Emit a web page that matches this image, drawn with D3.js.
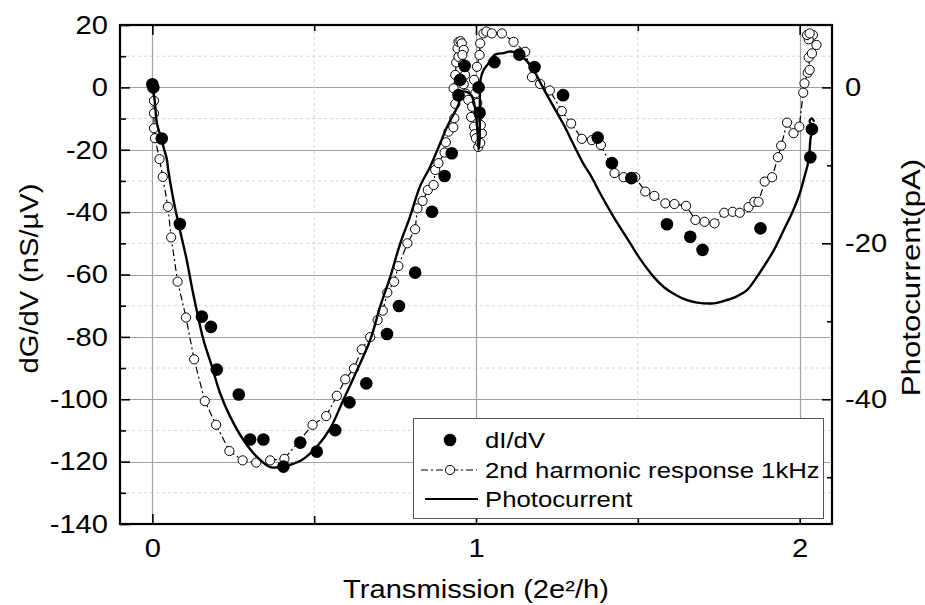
<!DOCTYPE html>
<html>
<head>
<meta charset="utf-8">
<script src="https://cdn.jsdelivr.net/npm/d3@7"></script>
<style>
  body { margin: 0; background: #fff; }
  svg { display: block; font-family: "Liberation Sans", Arial, sans-serif; }
</style>
</head>
<body>
<svg id="chart" width="925" height="605"></svg>
<script>
// dI/dV (nS/µV) versus transmission (2e²/h)
const dIdV_T = [0.000, 0.003, 0.029, 0.085, 0.153, 0.181, 0.199, 0.267, 0.302, 0.343, 0.405, 0.457, 0.508, 0.565,
  0.609, 0.661, 0.725, 0.762, 0.812, 0.864, 0.903, 0.925, 0.946, 0.951, 0.965, 1.008, 1.011, 1.057, 1.134,
  1.181, 1.269, 1.376, 1.420, 1.480, 1.590, 1.662, 1.700, 1.879, 2.033, 2.038];
const dIdV = [1.0, 0.0, -16.4, -43.8, -73.5, -76.8, -90.5, -98.5, -112.9, -112.9, -121.6, -113.9, -116.8, -109.9,
  -101.0, -94.9, -79.1, -70.1, -59.4, -39.9, -28.4, -21.1, -2.5, 2.4, 6.9, 0.0, -8.1, 8.1, 10.5,
  6.5, -2.5, -16.1, -24.3, -29.1, -43.9, -47.9, -52.1, -45.2, -22.4, -13.4];

// 2nd harmonic response at 1 kHz (nS/µV)
const harm_T = [0.003, 0.005, 0.005, 0.005, 0.008, 0.022, 0.032, 0.048, 0.058, 0.078, 0.104, 0.129, 0.162, 0.197,
  0.238, 0.279, 0.321, 0.364, 0.408, 0.495, 0.537, 0.570, 0.596, 0.623, 0.647, 0.673, 0.696, 0.712, 0.726,
  0.747, 0.760, 0.788, 0.812, 0.819, 0.835, 0.851, 0.869, 0.874, 0.884, 0.903, 0.907, 0.915, 0.930, 0.933,
  0.936, 0.931, 0.936, 0.939, 0.946, 0.943, 0.946, 0.952, 0.956, 0.962, 0.958, 0.960, 0.966, 0.962, 0.968,
  0.976, 0.988, 0.985, 0.994, 0.996, 1.000, 1.007, 1.013, 1.018, 1.015, 1.010, 1.004, 0.998, 0.994, 1.003,
  1.011, 1.013, 1.023, 1.032, 1.049, 1.080, 1.116, 1.152, 1.173, 1.198, 1.228, 1.265, 1.294, 1.327, 1.358,
  1.386, 1.428, 1.456, 1.492, 1.523, 1.551, 1.585, 1.613, 1.649, 1.678, 1.706, 1.737, 1.767, 1.793, 1.815,
  1.842, 1.860, 1.873, 1.892, 1.915, 1.933, 1.943, 1.961, 1.981, 1.999, 2.011, 2.015, 2.025, 2.031, 2.028,
  2.038, 2.052, 2.041, 2.028, 2.023, 2.031];
const harm = [0.5, -4.3, -8.3, -13.1, -16.3, -23.0, -28.7, -38.3, -48.1, -62.3, -73.8, -87.2, -100.6, -108.2,
  -116.6, -119.6, -120.3, -119.6, -119.1, -108.2, -105.4, -98.9, -93.6, -90.1, -84.0, -80.1, -74.6, -71.6, -65.8,
  -62.3, -57.3, -50.0, -45.5, -38.8, -36.4, -32.9, -31.3, -26.5, -24.3, -20.9, -17.6, -14.2, -12.8, -9.9,
  -5.3, -0.3, 4.0, 8.0, 9.8, 12.5, 14.6, 14.8, 14.1, 12.0, 10.4, 7.5, 4.0, 1.0, -2.0,
  -4.0, -6.2, -9.5, -12.6, -15.0, -16.3, -19.1, -17.8, -14.7, -12.1, -9.0, -5.0, -1.9, 2.4, 6.6,
  10.4, 14.1, 17.3, 17.9, 17.3, 17.3, 14.6, 11.4, 3.3, 1.1, -1.0, -7.6, -11.6, -16.5, -16.9,
  -18.5, -27.5, -28.8, -28.8, -33.4, -34.8, -37.2, -37.4, -38.0, -42.5, -43.1, -43.6, -40.2, -39.9, -40.2,
  -38.4, -36.7, -36.7, -30.2, -28.8, -22.4, -18.7, -11.3, -14.7, -12.6, -1.7, 1.3, 4.7, 5.6, 9.6,
  10.9, 13.6, 16.8, 15.4, 16.8, 17.3];

// Photocurrent (pA), right-hand axis
const photo_T = [0.001, 0.005, 0.008, 0.014, 0.024, 0.034, 0.045, 0.049, 0.065, 0.083, 0.106, 0.122, 0.137, 0.158,
  0.184, 0.209, 0.240, 0.281, 0.323, 0.364, 0.395, 0.426, 0.462, 0.508, 0.550, 0.590, 0.632, 0.673, 0.704,
  0.735, 0.766, 0.796, 0.827, 0.858, 0.889, 0.910, 0.930, 0.945, 0.957, 0.973, 0.987, 0.998, 1.005, 1.008,
  1.011, 1.012, 1.014, 1.023, 1.039, 1.059, 1.085, 1.106, 1.126, 1.152, 1.178, 1.209, 1.240, 1.270, 1.301,
  1.332, 1.353, 1.389, 1.425, 1.466, 1.507, 1.549, 1.580, 1.616, 1.652, 1.683, 1.734, 1.765, 1.801, 1.837,
  1.868, 1.889, 1.920, 1.951, 1.981, 2.002, 2.012, 2.028, 2.033, 2.038, 2.031, 2.038, 2.045];
const photo = [0.0, -1.0, -2.0, -4.6, -6.1, -7.6, -9.3, -10.6, -14.4, -17.9, -22.1, -25.6, -28.6, -32.4,
  -35.8, -39.2, -42.2, -45.2, -47.4, -48.7, -48.7, -48.4, -47.8, -46.1, -43.7, -40.1, -36.3, -32.4, -28.1,
  -24.3, -20.0, -16.6, -12.7, -10.2, -7.2, -5.1, -3.5, -2.3, -0.6, -0.6, -1.1, -2.9, -5.9, -8.0,
  -6.8, -2.9, 1.0, 2.2, 3.1, 4.2, 4.4, 4.6, 4.4, 3.6, 2.2, -0.2, -2.5, -4.7, -7.3,
  -9.8, -11.2, -14.0, -16.6, -19.3, -22.0, -24.3, -25.6, -26.6, -27.3, -27.6, -27.7, -27.4, -26.9, -26.0,
  -24.3, -23.0, -20.9, -18.3, -15.7, -13.4, -11.9, -9.3, -6.8, -5.1, -4.3, -4.0, -4.4];

const xTickValues = [0, 1, 2];
const yLeftTickValues = [20, 0, -20, -40, -60, -80, -100, -120, -140];
const yRightTickValues = [0, -20, -40];
const legendLabels = ["dI/dV", "2nd harmonic response 1kHz", "Photocurrent"];

const frame = { left: 120, right: 832, top: 25, bottom: 524 };
const x = d3.scaleLinear().domain([-0.1, 2.1]).range([frame.left, frame.right]);
const yL = d3.scaleLinear().domain([-140, 20]).range([frame.bottom, frame.top]);
const yR = d3.scaleLinear().domain([-56, 8]).range([frame.bottom, frame.top]);

const svg = d3.select("#chart");
const FONT = 26, STRETCH = 1.12;
const plain = d => String(d);   // ASCII hyphen for negatives

// gridlines
const grid = svg.append("g");
const yMinor = d3.range(-130, 20, 20);
grid.selectAll(".hmin").data(yMinor).join("line")
  .attr("x1", frame.left).attr("x2", frame.right)
  .attr("y1", d => yL(d)).attr("y2", d => yL(d))
  .attr("stroke", "#d4d4d4").attr("stroke-dasharray", "3,3").attr("stroke-width", 1);
grid.selectAll(".hmaj").data(yLeftTickValues.filter(v => v > -140 && v < 20)).join("line")
  .attr("x1", frame.left).attr("x2", frame.right)
  .attr("y1", d => Math.round(yL(d)) + 0.5).attr("y2", d => Math.round(yL(d)) + 0.5)
  .attr("stroke", "#a0a0a0").attr("stroke-width", 1.2);
grid.selectAll(".vmin").data([0.5, 1.5]).join("line")
  .attr("y1", frame.top).attr("y2", frame.bottom)
  .attr("x1", d => x(d)).attr("x2", d => x(d))
  .attr("stroke", "#d4d4d4").attr("stroke-dasharray", "3,3").attr("stroke-width", 1);
grid.selectAll(".vmaj").data(xTickValues).join("line")
  .attr("y1", frame.top).attr("y2", frame.bottom)
  .attr("x1", d => Math.round(x(d)) + 0.5).attr("x2", d => Math.round(x(d)) + 0.5)
  .attr("stroke", "#a0a0a0").attr("stroke-width", 1.2);

// 2nd harmonic: dash-dot line with open circles
const harmPts = harm_T.map((t, i) => [t, harm[i]]);
svg.append("path")
  .attr("d", d3.line().x(d => x(d[0])).y(d => yL(d[1]))(harmPts))
  .attr("fill", "none").attr("stroke", "#000").attr("stroke-width", 1.2)
  .attr("stroke-dasharray", "7,3,2,3");
svg.append("g").selectAll("circle").data(harmPts).join("circle")
  .attr("cx", d => x(d[0])).attr("cy", d => yL(d[1])).attr("r", 4.6)
  .attr("fill", "#fff").attr("stroke", "#000").attr("stroke-width", 1);

// photocurrent line (right axis)
const photoPts = photo_T.map((t, i) => [t, photo[i]]);
svg.append("path")
  .attr("d", d3.line().x(d => x(d[0])).y(d => yR(d[1])).curve(d3.curveCatmullRom.alpha(0.5))(photoPts))
  .attr("fill", "none").attr("stroke", "#000").attr("stroke-width", 2.4).attr("stroke-linejoin", "round");

// dI/dV filled dots
svg.append("g").selectAll("circle").data(dIdV_T.map((t, i) => [t, dIdV[i]])).join("circle")
  .attr("cx", d => x(d[0])).attr("cy", d => yL(d[1])).attr("r", 6.3).attr("fill", "#000");

// axes with inward ticks
function styleAxis(g) {
  g.select(".domain").remove();
  g.selectAll("line").attr("stroke", "#000").attr("stroke-width", 1.6);
  g.selectAll("text").attr("font-size", FONT).attr("fill", "#000")
    .attr("font-family", "'Liberation Sans', Arial, sans-serif");
}
function stretchText(g) {
  g.selectAll("text").each(function () {
    const t = d3.select(this);
    const tx = +t.attr("x") || 0, ty = +t.attr("y") || 0;
    t.attr("transform", `translate(${tx},${ty}) scale(${STRETCH},1)`).attr("x", 0).attr("y", 0);
  });
}

const gl = svg.append("g").attr("transform", `translate(${frame.left},0)`)
  .call(d3.axisLeft(yL).tickValues(yLeftTickValues).tickSize(-10).tickPadding(12).tickFormat(plain));
styleAxis(gl); stretchText(gl);
const glm = svg.append("g").attr("transform", `translate(${frame.left},0)`)
  .call(d3.axisLeft(yL).tickValues(yMinor).tickSize(-6).tickFormat(""));
styleAxis(glm);

const gr = svg.append("g").attr("transform", `translate(${frame.right},0)`)
  .call(d3.axisRight(yR).tickValues(yRightTickValues).tickSize(-10).tickPadding(13).tickFormat(plain));
styleAxis(gr); stretchText(gr);
const grm = svg.append("g").attr("transform", `translate(${frame.right},0)`)
  .call(d3.axisRight(yR).tickValues([-10, -30, -50]).tickSize(-5).tickFormat(""));
styleAxis(grm);

const gb = svg.append("g").attr("transform", `translate(0,${frame.bottom})`)
  .call(d3.axisBottom(x).tickValues(xTickValues).tickSize(-10).tickPadding(15).tickFormat(plain));
styleAxis(gb); stretchText(gb);
const gbm = svg.append("g").attr("transform", `translate(0,${frame.bottom})`)
  .call(d3.axisBottom(x).tickValues([0.5, 1.5]).tickSize(-8).tickFormat(""));
styleAxis(gbm);

const gt = svg.append("g").attr("transform", `translate(0,${frame.top})`)
  .call(d3.axisTop(x).tickValues(xTickValues).tickSize(-10).tickFormat(""));
styleAxis(gt);
const gtm = svg.append("g").attr("transform", `translate(0,${frame.top})`)
  .call(d3.axisTop(x).tickValues([0.5, 1.5]).tickSize(-6).tickFormat(""));
styleAxis(gtm);

// frame
svg.append("rect")
  .attr("x", frame.left).attr("y", frame.top)
  .attr("width", frame.right - frame.left).attr("height", frame.bottom - frame.top)
  .attr("fill", "none").attr("stroke", "#000").attr("stroke-width", 2.2);

// axis titles
svg.append("text")
  .attr("transform", `translate(${(frame.left + frame.right) / 2},598) scale(${STRETCH},1)`)
  .attr("text-anchor", "middle").attr("font-size", FONT)
  .text("Transmission (2e²/h)");
svg.append("text")
  .attr("transform", `translate(38,${(frame.top + frame.bottom) / 2 + 4}) rotate(-90) scale(${STRETCH},1)`)
  .attr("text-anchor", "middle").attr("font-size", FONT)
  .text("dG/dV (nS/µV)");
svg.append("text")
  .attr("transform", `translate(920,${(frame.top + frame.bottom) / 2 + 3}) rotate(-90) scale(1.2,1)`)
  .attr("text-anchor", "middle").attr("font-size", FONT)
  .text("Photocurrent(pA)");

// legend
const lg = svg.append("g");
lg.append("rect").attr("x", 413.5).attr("y", 418.5).attr("width", 410).attr("height", 100)
  .attr("fill", "#fff").attr("stroke", "#555").attr("stroke-width", 1);
const rowY = [440, 470, 499];
lg.append("circle").attr("cx", 450).attr("cy", rowY[0]).attr("r", 6.3).attr("fill", "#000");
lg.append("line").attr("x1", 421).attr("x2", 477).attr("y1", rowY[1]).attr("y2", rowY[1])
  .attr("stroke", "#000").attr("stroke-width", 1.2).attr("stroke-dasharray", "7,3,2,3");
lg.append("circle").attr("cx", 450).attr("cy", rowY[1]).attr("r", 4.6)
  .attr("fill", "#fff").attr("stroke", "#000");
lg.append("line").attr("x1", 425).attr("x2", 478).attr("y1", rowY[2]).attr("y2", rowY[2])
  .attr("stroke", "#000").attr("stroke-width", 2.2);
lg.selectAll("text.lab").data(legendLabels).join("text")
  .attr("transform", (d, i) => `translate(485,${rowY[i] + 8}) scale(1.17,1)`)
  .attr("font-size", 22).text(d => d);
</script>
</body>
</html>
